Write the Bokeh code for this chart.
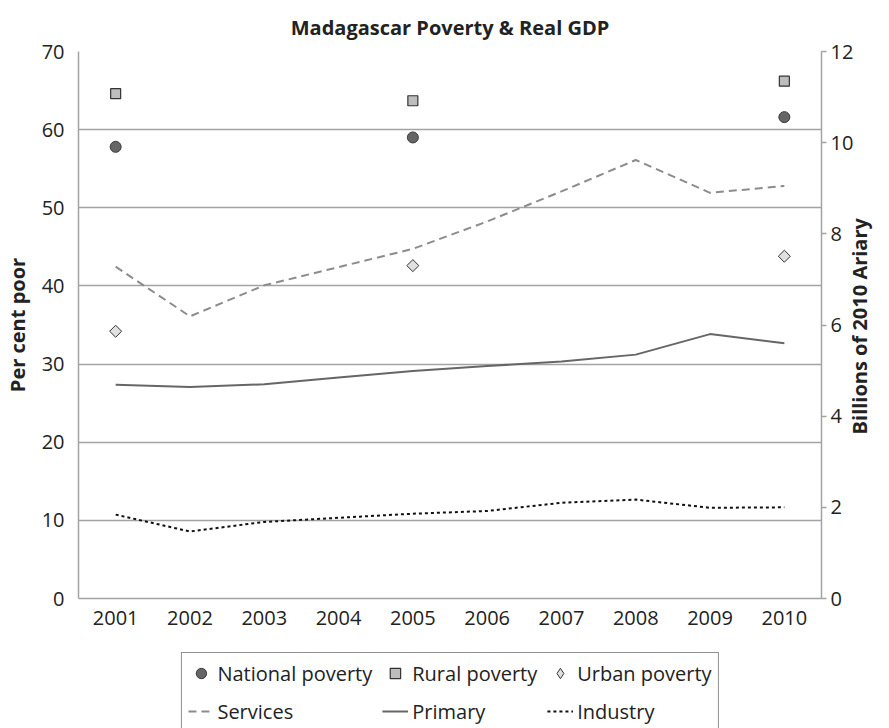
import math
from bokeh.plotting import figure
from bokeh.layouts import column
from bokeh.models import Range1d, LinearAxis, FixedTicker, Legend, LegendItem, FactorRange
from bokeh.embed import file_html
from bokeh.resources import INLINE

years = ["2001", "2002", "2003", "2004", "2005", "2006", "2007", "2008", "2009", "2010"]
poverty_years = ["2001", "2005", "2010"]
national = [57.8, 59.0, 61.6]
rural = [64.6, 63.7, 66.2]
urban = [34.2, 42.6, 43.8]
services = [7.28, 6.19, 6.87, 7.27, 7.67, 8.27, 8.93, 9.62, 8.90, 9.05]
primary = [4.69, 4.64, 4.70, 4.85, 4.99, 5.10, 5.20, 5.35, 5.80, 5.60]
industry = [1.84, 1.47, 1.68, 1.77, 1.86, 1.92, 2.10, 2.17, 1.99, 2.00]
left_ticks = [0, 10, 20, 30, 40, 50, 60, 70]
right_ticks = [0, 2, 4, 6, 8, 10, 12]
right_title = "Billions of 2010 Ariary"

FONT = "Open Sans"
GRID = "#a3a3a3"
TXT = "#222222"

NAT = dict(fill_color="#666666", line_color="#3a3a3a", line_width=1)
RUR = dict(fill_color="#bdbdbd", line_color="#333333", line_width=1.2)
URB = dict(fill_color="#e0e0e0", line_color="#333333", line_width=1)
SERV = dict(line_color="#8c8c8c", line_width=2, line_dash="8 5")
PRIM = dict(line_color="#666666", line_width=2)
IND = dict(line_color="#111111", line_width=2, line_dash="3 3")

p = figure(x_range=FactorRange(*years), y_range=Range1d(0, 70),
           width=889, height=644, output_backend="svg", toolbar_location=None,
           min_border_left=75, min_border_right=0, min_border_top=51, min_border_bottom=46)
p.outline_line_color = None
p.background_fill_color = "white"
p.border_fill_color = "white"

p.title.text = "Madagascar Poverty & Real GDP"
p.title.align = "center"
p.title.text_font = FONT
p.title.text_font_style = "bold"
p.title.text_font_size = "20px"
p.title.text_color = TXT
p.title.standoff = 22

p.extra_y_ranges = {"gdp": Range1d(0, 12)}

p.xgrid.grid_line_color = None
p.ygrid.grid_line_color = GRID
p.ygrid.grid_line_width = 1.5
p.ygrid.ticker = FixedTicker(ticks=left_ticks)

ax = p.xaxis[0]
ax.axis_line_color = GRID
ax.axis_line_width = 1.5
ax.major_tick_line_color = None
ax.minor_tick_line_color = None
ax.major_label_text_font = FONT
ax.major_label_text_font_size = "20px"
ax.major_label_text_color = TXT
ax.major_label_standoff = 6

ly = p.yaxis[0]
ly.ticker = FixedTicker(ticks=left_ticks)
ly.axis_line_color = GRID
ly.axis_line_width = 1.5
ly.major_tick_line_color = None
ly.minor_tick_line_color = None
ly.major_label_text_font = FONT
ly.major_label_text_font_size = "20px"
ly.major_label_text_color = TXT
ly.major_label_standoff = 8
ly.axis_label = "Per cent poor"
ly.axis_label_text_font = FONT
ly.axis_label_text_font_style = "bold"
ly.axis_label_text_font_size = "20px"
ly.axis_label_text_color = TXT
ly.axis_label_standoff = 8

ry = LinearAxis(y_range_name="gdp", ticker=FixedTicker(ticks=right_ticks))
ry.axis_line_color = GRID
ry.axis_line_width = 1.5
ry.major_tick_line_color = GRID
ry.major_tick_line_width = 1.5
ry.major_tick_out = 5
ry.major_tick_in = 0
ry.minor_tick_line_color = None
ry.major_label_text_font = FONT
ry.major_label_text_font_size = "20px"
ry.major_label_text_color = TXT
ry.major_label_standoff = 4
p.add_layout(ry, "right")

# right axis title (reads bottom-to-top)
rt = LinearAxis(y_range_name="gdp", ticker=FixedTicker(ticks=[3.6]),
                major_label_overrides={3.6: right_title})
rt.axis_line_color = None
rt.major_tick_line_color = None
rt.minor_tick_line_color = None
rt.major_tick_out = 0
rt.major_tick_in = 0
rt.major_label_orientation = math.pi / 2
rt.major_label_standoff = 3
rt.major_label_text_font = FONT
rt.major_label_text_font_style = "bold"
rt.major_label_text_font_size = "20px"
rt.major_label_text_color = TXT
p.add_layout(rt, "right")

p.line(years, services, y_range_name="gdp", **SERV)
p.line(years, primary, y_range_name="gdp", **PRIM)
p.line(years, industry, y_range_name="gdp", **IND)

p.scatter(poverty_years, national, marker="circle", size=11, **NAT)
p.scatter(poverty_years, rural, marker="square", size=10, **RUR)
p.scatter(poverty_years, urban, marker="square", angle=math.pi / 4, size=8.5, **URB)

# legend panel below the chart (its renderers hold the same series, kept out of view)
q = figure(width=889, height=84, x_range=FactorRange(*years), y_range=Range1d(-2, -1),
           x_axis_type=None, y_axis_type=None, output_backend="svg", toolbar_location=None,
           min_border_left=75, min_border_right=63, min_border_top=0, min_border_bottom=0)
q.outline_line_color = None
q.xgrid.grid_line_color = None
q.ygrid.grid_line_color = None
l_nat = q.scatter(poverty_years, national, marker="circle", **NAT)
l_rur = q.scatter(poverty_years, rural, marker="square", **RUR)
l_urb = q.scatter(poverty_years, urban, marker="diamond", **URB)
l_serv = q.line(years, services, **SERV)
l_prim = q.line(years, primary, **PRIM)
l_ind = q.line(years, industry, **IND)

legend = Legend(items=[
    LegendItem(label="National poverty", renderers=[l_nat]),
    LegendItem(label="Rural poverty", renderers=[l_rur]),
    LegendItem(label="Urban poverty", renderers=[l_urb]),
    LegendItem(label="Services", renderers=[l_serv]),
    LegendItem(label="Primary", renderers=[l_prim]),
    LegendItem(label="Industry", renderers=[l_ind]),
], orientation="horizontal", ncols=3, location="top_center")
legend.label_text_font = FONT
legend.label_text_font_size = "20px"
legend.label_text_color = TXT
legend.glyph_width = 26
legend.glyph_height = 28
legend.label_standoff = 4
legend.spacing = 10
legend.padding = 6
legend.margin = 8
legend.border_line_color = "#222222"
legend.border_line_width = 1
legend.background_fill_alpha = 1
q.add_layout(legend, "center")

open("out.html", "w").write(file_html(column(p, q), INLINE))
